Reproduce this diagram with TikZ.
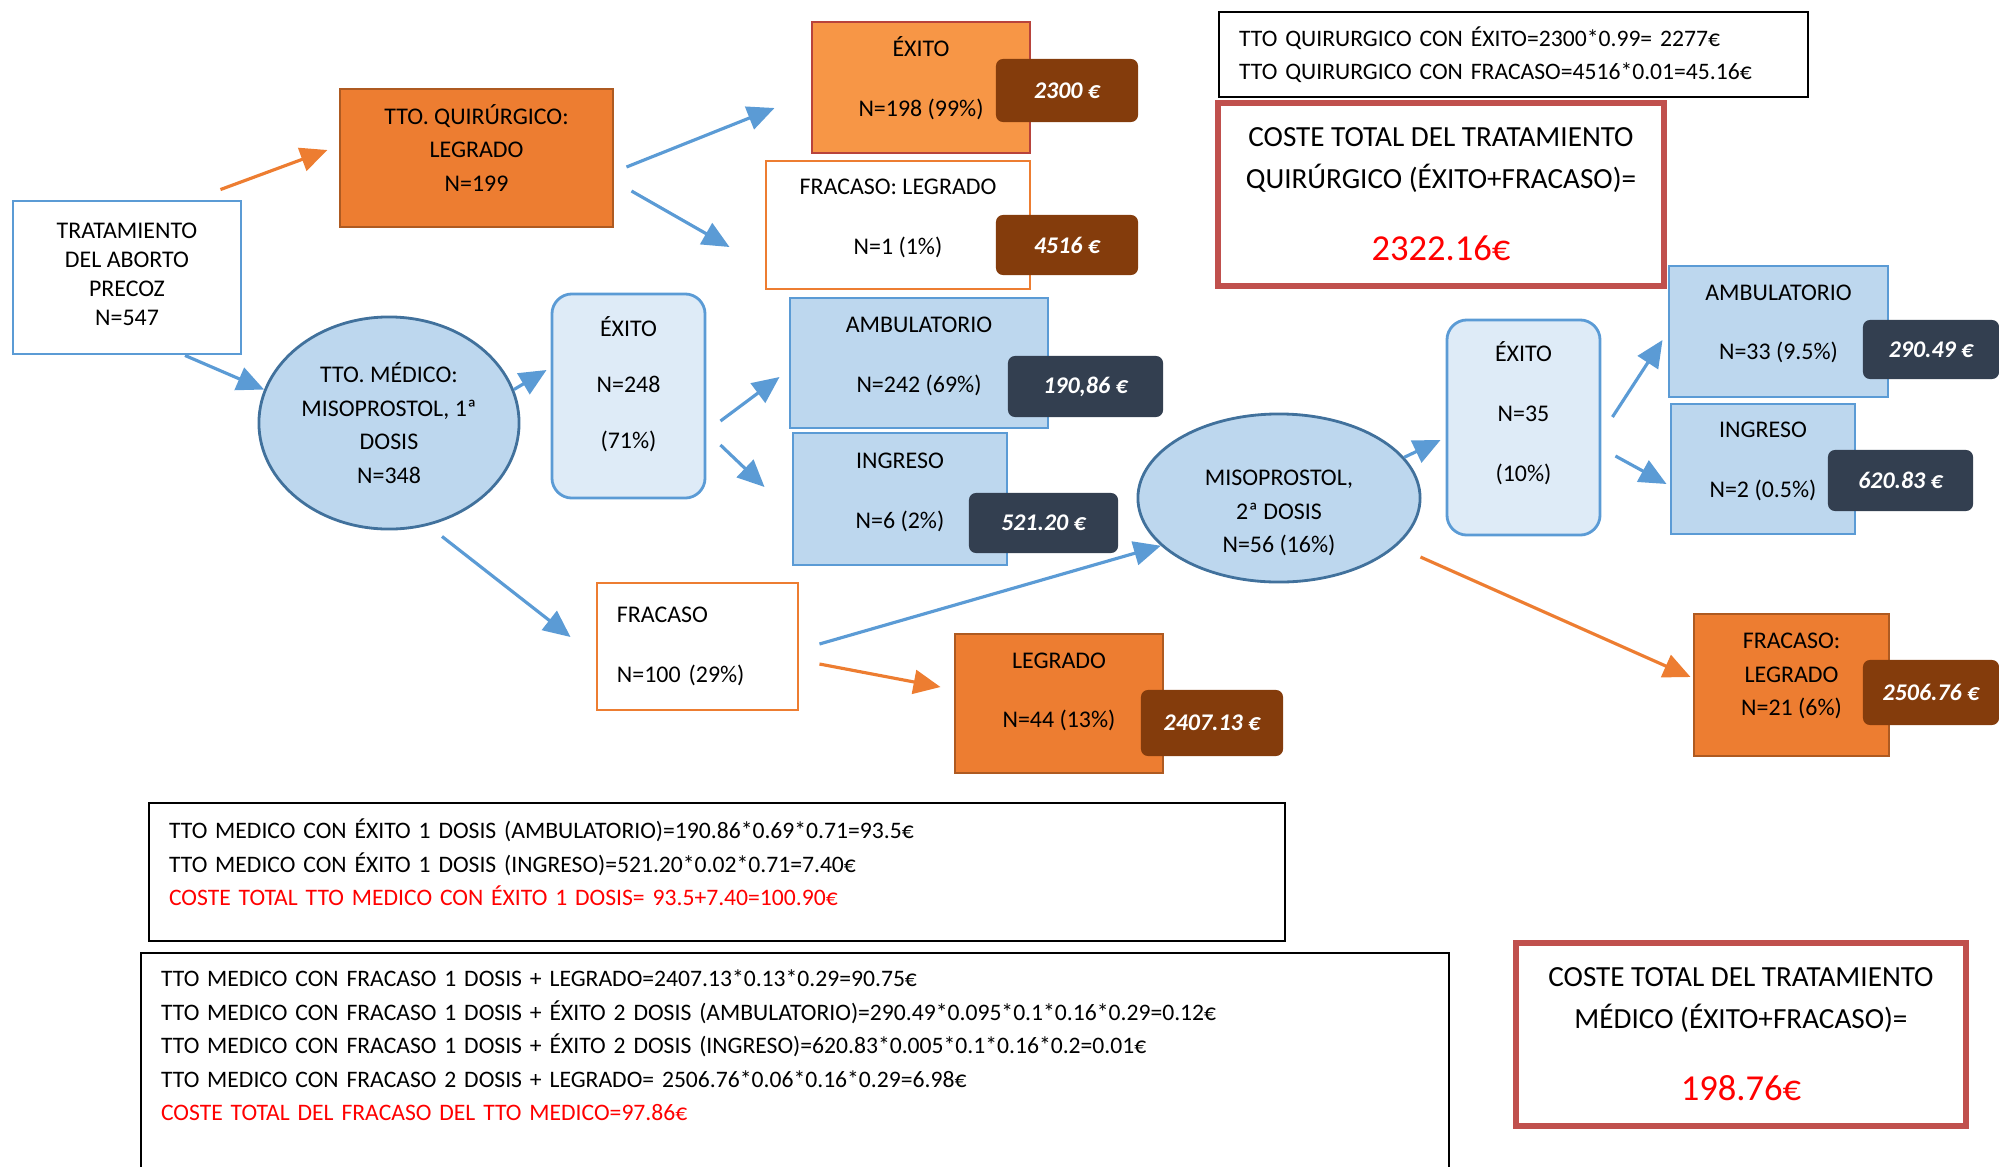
\documentclass[tikz,border=0pt]{standalone}
\usepackage{fontspec}
\setmainfont{Carlito}
\usetikzlibrary{arrows.meta, shapes.geometric}
\definecolor{blueline}{HTML}{5B9BD5}
\definecolor{bluefill}{HTML}{BDD7EE}
\definecolor{palefill}{HTML}{DEEBF7}
\definecolor{ellline}{HTML}{41719C}
\definecolor{orangefill}{HTML}{ED7D31}
\definecolor{orangeline}{HTML}{AE5A21}
\definecolor{lightorange}{HTML}{F79646}
\definecolor{exitoline}{HTML}{B8433C}
\definecolor{brownbadge}{HTML}{843C0C}
\definecolor{slatebadge}{HTML}{333F50}
\definecolor{totalline}{HTML}{C0504D}
\definecolor{costred}{HTML}{FF0000}

\begin{document}
\begin{tikzpicture}[x=0.01cm, y=-0.01cm,
      every node/.style={font=\fontsize{6.8}{9.6}\selectfont, inner sep=0pt, align=center},
      box/.style={draw=blueline, line width=0.8pt, fill=white},
      obox/.style={draw=orangeline, line width=0.8pt, fill=orangefill},
      lobox/.style={draw=exitoline, line width=0.8pt, fill=lightorange},
      wbox/.style={draw=orangefill, line width=0.8pt, fill=white},
      bbox/.style={draw=blueline, line width=0.8pt, fill=bluefill},
      rbox/.style={draw=blueline, line width=0.8pt, fill=palefill, rounded corners=0.2cm},
      ell/.style={ellipse, draw=ellline, line width=0.8pt, fill=bluefill},
      browncost/.style={fill=brownbadge, rounded corners=0.07cm, text=white, font=\fontsize{6.8}{8}\selectfont\bfseries\itshape},
      slatecost/.style={fill=slatebadge, rounded corners=0.07cm, text=white, font=\fontsize{6.8}{8}\selectfont\bfseries\itshape},
      calcbox/.style={draw=black, line width=0.6pt, fill=white, align=left, font=\fontsize{6.72}{9.5}\selectfont},
      totalbox/.style={draw=totalline, line width=1.6pt, fill=white, font=\fontsize{8.3}{11.7}\selectfont},
      barrow/.style={draw=blueline, line width=0.9pt, -{Triangle[length=0.27cm, width=0.24cm]}},
      oarrow/.style={draw=orangefill, line width=0.9pt, -{Triangle[length=0.27cm, width=0.24cm]}}
    ]
      \useasboundingbox (0,0) rectangle (1999,1166);

      \node[box, minimum width=2.28cm, minimum height=1.53cm, text depth=1.8pt, font=\fontsize{6.8}{8.3}\selectfont] (trat) at (127,277.5) {TRATAMIENTO\\DEL ABORTO\\PRECOZ\\N=547};

      \node[obox, minimum width=2.73cm, minimum height=1.38cm, text depth=5.7pt] (quir) at (476.5,158) {TTO. QUIRÚRGICO:\\LEGRADO\\N=199};
      \node[lobox, minimum width=2.18cm, minimum height=1.31cm, text depth=6.1pt] (qexito) at (921,87.5) {ÉXITO\\[7.4pt]N=198 (99\%)};
      \node[browncost, minimum width=1.42cm, minimum height=0.63cm] (qexitocost) at (1067,90.5) {2300 €};
      \node[wbox, minimum width=2.64cm, minimum height=1.28cm, text depth=4.6pt] (qfrac) at (898,225) {FRACASO: LEGRADO\\[7.4pt]N=1 (1\%)};
      \node[browncost, minimum width=1.42cm, minimum height=0.60cm] (qfraccost) at (1067,245) {4516 €};

      \node[ell, minimum width=2.60cm, minimum height=2.12cm] (med) at (389,423) {TTO. MÉDICO:\\MISOPROSTOL, 1ª\\DOSIS\\N=348};
      \node[rbox, minimum width=1.53cm, minimum height=2.04cm, text depth=7.9pt] (mexito) at (628.5,396) {ÉXITO\\[6.3pt]N=248\\[6.3pt](71\%)};
      \node[bbox, minimum width=2.58cm, minimum height=1.30cm, text depth=4.6pt] (mamb) at (919,363) {AMBULATORIO\\[7.4pt]N=242 (69\%)};
      \node[slatecost, minimum width=1.55cm, minimum height=0.61cm] (mambcost) at (1085.5,386.5) {190,86 €};
      \node[bbox, minimum width=2.14cm, minimum height=1.32cm, text depth=4.6pt] (ming) at (900,499) {INGRESO\\[7.4pt]N=6 (2\%)};
      \node[slatecost, minimum width=1.49cm, minimum height=0.60cm] (mingcost) at (1043.5,523) {521.20 €};
      \node[wbox, minimum width=2.01cm, minimum height=1.27cm, text width=1.61cm, align=left] (mfrac) at (697.5,646.5) {FRACASO\\[7.4pt]N=100 (29\%)};
      \node[obox, minimum width=2.08cm, minimum height=1.39cm, text depth=7.5pt] (mleg) at (1059,703.5) {LEGRADO\\[7.4pt]N=44 (13\%)};
      \node[browncost, minimum width=1.42cm, minimum height=0.66cm] (mlegcost) at (1212,723) {2407.13 €};

      \node[ell, minimum width=2.82cm, minimum height=1.68cm] (miso) at (1279,498) {\rule{0pt}{13pt}MISOPROSTOL,\\2ª DOSIS\\N=56 (16\%)};
      \node[rbox, minimum width=1.53cm, minimum height=2.15cm, text depth=9pt] (sexito) at (1523.5,427.5) {ÉXITO\\[7.4pt]N=35\\[7.4pt](10\%)};
      \node[bbox, minimum width=2.19cm, minimum height=1.31cm, text depth=5.3pt] (samb) at (1778.5,331.5) {AMBULATORIO\\[7.4pt]N=33 (9.5\%)};
      \node[slatecost, minimum width=1.36cm, minimum height=0.59cm] (sambcost) at (1931,349.5) {290.49 €};
      \node[bbox, minimum width=1.84cm, minimum height=1.30cm, text depth=5.3pt] (sing) at (1763,469) {INGRESO\\[7.4pt]N=2 (0.5\%)};
      \node[slatecost, minimum width=1.45cm, minimum height=0.61cm] (singcost) at (1900.5,480.5) {620.83 €};
      \node[obox, minimum width=1.95cm, minimum height=1.42cm, text depth=6.1pt] (sfrac) at (1791.5,685) {FRACASO:\\LEGRADO\\N=21 (6\%)};
      \node[browncost, minimum width=1.36cm, minimum height=0.65cm] (sfraccost) at (1931,692.5) {2506.76 €};

      \node[calcbox, anchor=north west, minimum width=5.89cm, minimum height=0.85cm, text width=5.49cm] (qcalc) at (1218,11) {TTO QUIRURGICO CON ÉXITO=2300*0.99= 2277€\\TTO QUIRURGICO CON FRACASO=4516*0.01=45.16€};
      \node[totalbox, minimum width=4.46cm, minimum height=1.83cm] (qtotal) at (1441,194.5) {COSTE TOTAL DEL TRATAMIENTO\\QUIRÚRGICO (ÉXITO+FRACASO)=\\[9pt]{\fontsize{10.4}{12}\selectfont\color{costred}2322.16€}};

      \node[calcbox, anchor=north west, minimum width=11.35cm, minimum height=1.38cm, text width=10.95cm] (mexcalc) at (148,802) {TTO MEDICO CON ÉXITO 1 DOSIS (AMBULATORIO)=190.86*0.69*0.71=93.5€\\TTO MEDICO CON ÉXITO 1 DOSIS (INGRESO)=521.20*0.02*0.71=7.40€\\\textcolor{costred}{COSTE TOTAL TTO MEDICO CON ÉXITO 1 DOSIS= 93.5+7.40=100.90€}\\[-4pt]\mbox{}};
      \node[calcbox, anchor=north west, minimum width=13.07cm, text width=12.67cm, inner ysep=0.17cm] (mfracalc) at (140,952) {TTO MEDICO CON FRACASO 1 DOSIS + LEGRADO=2407.13*0.13*0.29=90.75€\\TTO MEDICO CON FRACASO 1 DOSIS + ÉXITO 2 DOSIS (AMBULATORIO)=290.49*0.095*0.1*0.16*0.29=0.12€\\TTO MEDICO CON FRACASO 1 DOSIS + ÉXITO 2 DOSIS (INGRESO)=620.83*0.005*0.1*0.16*0.2=0.01€\\TTO MEDICO CON FRACASO 2 DOSIS + LEGRADO= 2506.76*0.06*0.16*0.29=6.98€\\\textcolor{costred}{COSTE TOTAL DEL FRACASO DEL TTO MEDICO=97.86€}\\[6pt]\mbox{}};
      \node[totalbox, minimum width=4.50cm, minimum height=1.83cm] (mtotal) at (1741,1034.5) {COSTE TOTAL DEL TRATAMIENTO\\MÉDICO (ÉXITO+FRACASO)=\\[9pt]{\fontsize{10.4}{12}\selectfont\color{costred}198.76€}};

      \draw[oarrow] ([shift={(-22,-10)}]trat.north east) -- ([shift={(-11,-8)}]quir.west);
      \draw[barrow] ([shift={(58,0)}]trat.south) -- (med.165);
      \draw[barrow] ([shift={(12,9)}]quir.east) -- ([shift={(-36,20.5)}]qexito.west);
      \draw[barrow] ([shift={(17,33)}]quir.east) -- ([shift={(-35,22)}]qfrac.west);
      \draw[barrow] (med.15) -- ([shift={(-4,-26)}]mexito.west);
      \draw[barrow] ([shift={(53,6)}]med.south) -- ([shift={(-25,-9.5)}]mfrac.west);
      \draw[barrow] ([shift={(14,25)}]mexito.east) -- ([shift={(-9,14)}]mamb.west);
      \draw[barrow] ([shift={(14,49)}]mexito.east) -- ([shift={(-27,-12)}]ming.west);
      \draw[barrow] ([shift={(20,-2.5)}]mfrac.east) -- (miso.202);
      \draw[oarrow] ([shift={(20,17.5)}]mfrac.east) -- ([shift={(-13,-16.5)}]mleg.west);
      \draw[barrow] (miso.18) -- ([shift={(-5,12.5)}]sexito.west);
      \draw[barrow] ([shift={(11,-10.5)}]sexito.east) -- ([shift={(-5,8.5)}]samb.west);
      \draw[barrow] ([shift={(14,28.5)}]sexito.east) -- ([shift={(-3,15)}]sing.west);
      \draw[oarrow] ([shift={(-1,59)}]miso.east) -- ([shift={(-2,-8)}]sfrac.west);
    \end{tikzpicture}
\end{document}
